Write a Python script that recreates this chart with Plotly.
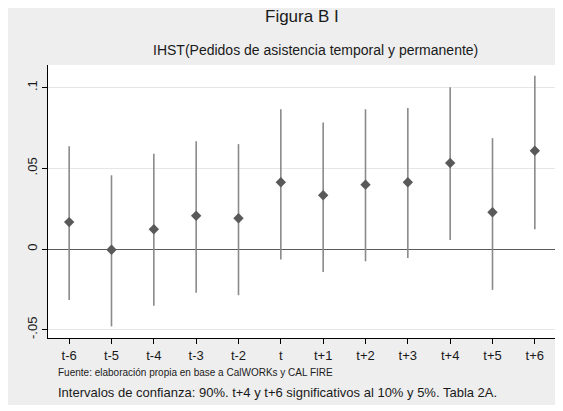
import plotly.graph_objects as go

categories = ["t-6", "t-5", "t-4", "t-3", "t-2", "t", "t+1", "t+2", "t+3", "t+4", "t+5", "t+6"]
coef = [0.0167, -0.0004, 0.0123, 0.0206, 0.0191, 0.0414, 0.0333, 0.0399, 0.0414, 0.0533, 0.0228, 0.0609]
ci_hi = [0.0636, 0.0457, 0.0591, 0.0667, 0.0650, 0.0866, 0.0784, 0.0866, 0.0874, 0.1002, 0.0687, 0.1074]
ci_lo = [-0.0315, -0.0479, -0.0352, -0.0270, -0.0286, -0.0064, -0.0142, -0.0076, -0.0056, 0.0056, -0.0253, 0.0123]
ytick_vals = [-0.05, 0, 0.05, 0.1]
ytick_text = ["-.05", "0", ".05", ".1"]

xs = list(range(len(categories)))

# page body has an 8px default margin; work in reference pixels minus that offset
OFF = 8
W, H = 563 - OFF, 411 - OFF
L, R, T, B = 48 - OFF, 556 - OFF, 65 - OFF, 338 - OFF

def px(x):
    return (x - OFF - L) / (R - L)

def py(y):
    return (B - (y - OFF)) / (B - T)

fig = go.Figure()
fig.add_trace(go.Scatter(
    x=xs, y=coef, mode="markers",
    marker=dict(symbol="diamond", size=8, color="#595959"),
    error_y=dict(type="data", symmetric=False,
                 array=[h - c for h, c in zip(ci_hi, coef)],
                 arrayminus=[c - l for c, l in zip(coef, ci_lo)],
                 color="#8a8a8a", thickness=1.6, width=0),
    showlegend=False, hoverinfo="skip",
))

font = "Arial, Liberation Sans, sans-serif"

fig.update_layout(
    width=W, height=H,
    margin=dict(l=L, r=W - R, t=T, b=H - B, pad=0),
    paper_bgcolor="white",
    plot_bgcolor="white",
    font=dict(family=font, color="#1a1a1a", size=13),
    xaxis=dict(
        range=[-0.5, 11.5], tickmode="array", tickvals=xs, ticktext=categories,
        showgrid=False, zeroline=False, showline=True, linecolor="black", linewidth=1.2,
        ticks="outside", ticklen=5, tickcolor="black", tickfont=dict(size=13, color="#1a1a1a"),
    ),
    yaxis=dict(
        range=[-0.0551, 0.114], tickmode="array", tickvals=ytick_vals, ticktext=ytick_text,
        tickangle=-90, showgrid=True, gridcolor="#e6e6e6", gridwidth=1,
        zeroline=True, zerolinecolor="#5a5a5a", zerolinewidth=1.4,
        showline=True, linecolor="black", linewidth=1.2,
        ticks="outside", ticklen=5, tickcolor="black", tickfont=dict(size=13, color="#1a1a1a"),
    ),
    shapes=[
        dict(type="rect", xref="paper", yref="paper", layer="below",
             x0=px(OFF), x1=px(558), y0=py(405), y1=py(OFF),
             fillcolor="#eeeeee", line=dict(width=0)),
        dict(type="rect", xref="paper", yref="paper", layer="below",
             x0=0, x1=1, y0=0, y1=1, fillcolor="white", line=dict(width=0)),
    ],
    annotations=[
        dict(text="Figura B I", xref="paper", yref="paper", x=px(302), y=py(17),
             xanchor="center", yanchor="middle", showarrow=False,
             font=dict(size=17, color="#1a1a1a")),
        dict(text="IHST(Pedidos de asistencia temporal y permanente)", xref="paper", yref="paper",
             x=px(315), y=py(50), xanchor="center", yanchor="middle", showarrow=False,
             font=dict(size=14, color="#1a1a1a")),
        dict(text="Fuente: elaboración propia en base a CalWORKs y CAL FIRE", xref="paper", yref="paper",
             x=px(56), y=py(372), xanchor="left", yanchor="middle", showarrow=False,
             font=dict(size=10, color="#1a1a1a")),
        dict(text="Intervalos de confianza: 90%. t+4 y t+6 significativos al 10% y 5%. Tabla 2A.",
             xref="paper", yref="paper", x=px(56), y=py(392), xanchor="left", yanchor="middle",
             showarrow=False, font=dict(size=13, color="#1a1a1a")),
    ],
)

fig.write_html("out.html")
